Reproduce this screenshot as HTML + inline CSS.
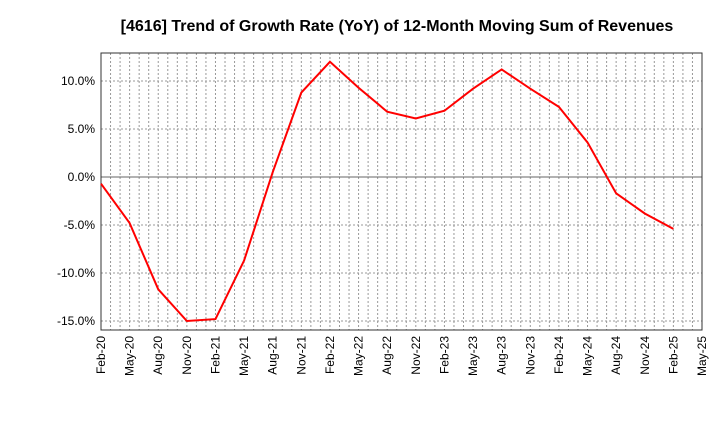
<!DOCTYPE html>
<html><head><meta charset="utf-8"><style>
body{margin:0;background:#fff;font-family:"Liberation Sans",sans-serif}
</style></head><body>
<svg id="c" width="720" height="440" xmlns="http://www.w3.org/2000/svg">
<text x="397" y="31" text-anchor="middle" font-size="16" font-weight="bold">[4616]  Trend of Growth Rate (YoY) of 12-Month Moving Sum of Revenues</text>
<g id="grid"></g><g id="ax"></g><path id="line" fill="none" stroke="#ff0000" stroke-width="2"/>
</svg>
<script>
const xLabels=["Feb-20","May-20","Aug-20","Nov-20","Feb-21","May-21","Aug-21","Nov-21","Feb-22","May-22","Aug-22","Nov-22","Feb-23","May-23","Aug-23","Nov-23","Feb-24","May-24","Aug-24","Nov-24","Feb-25","May-25"];
const values=[-0.7,-4.8,-11.7,-15.0,-14.8,-8.7,0.5,8.8,12.0,9.3,6.8,6.1,6.9,9.2,11.2,9.2,7.3,3.6,-1.7,-3.8,-5.4];
const yTicks=[-15,-10,-5,0,5,10];
const yTickLabels=["-15.0%","-10.0%","-5.0%","0.0%","5.0%","10.0%"];
const L=101,R=702,T=53,B=330;
const x=i=>L+(R-L)*i/21;
const y=v=>177-v*9.6;
const ns="http://www.w3.org/2000/svg";
function mk(t,a,p){const e=document.createElementNS(ns,t);for(const k in a)e.setAttribute(k,a[k]);p.appendChild(e);return e;}
const g=document.getElementById('grid'),ax=document.getElementById('ax');
for(let m=1;m<63;m++){const l=mk('line',{x1:L+(R-L)*m/63,x2:L+(R-L)*m/63,y1:T,y2:B,stroke:'#999','stroke-dasharray':'2,2'},g);
}
yTicks.forEach((v,i)=>{const l=mk('line',{x1:L,x2:R,y1:y(v),y2:y(v),stroke:v===0?'#666':'#999','stroke-dasharray':v===0?'':'2,2'},g);

const t=mk('text',{x:L-6,y:y(v)+4,'text-anchor':'end','font-size':12},ax);t.textContent=yTickLabels[i];
});
xLabels.forEach((s,i)=>{const t=mk('text',{transform:`translate(${x(i)+4},${B+6}) rotate(-90)`,'text-anchor':'end','font-size':12},ax);t.textContent=s;
});
const fr=mk('rect',{x:L,y:T,width:R-L,height:B-T,fill:'none',stroke:'#333'},ax);

document.getElementById('line').setAttribute('d',values.map((v,i)=>(i?'L':'M')+x(i)+','+y(v)).join(''));
</script>
</body></html>
